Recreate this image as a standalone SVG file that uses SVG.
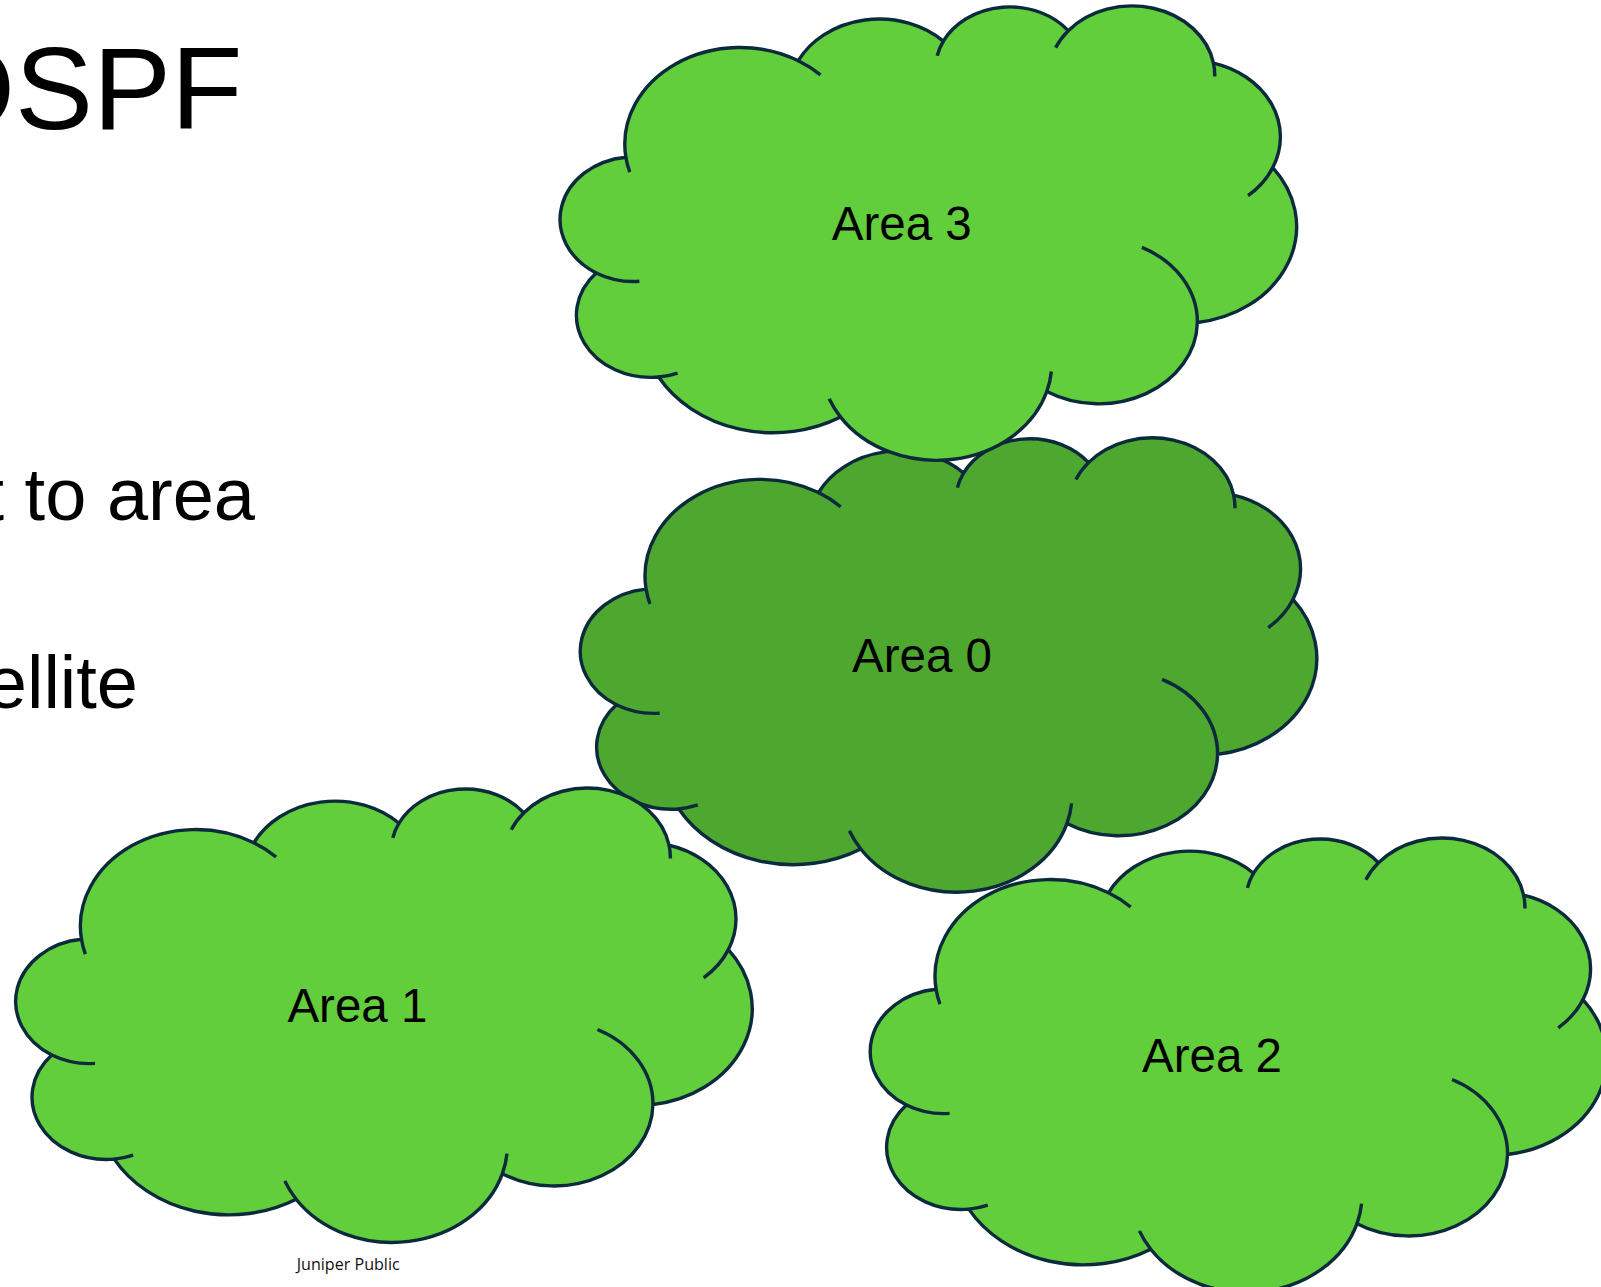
<svg xmlns="http://www.w3.org/2000/svg" xmlns:xlink="http://www.w3.org/1999/xlink" width="1601" height="1287" viewBox="0 0 1601 1287">
<style>
.body { stroke:#0B2A3C; stroke-width:3.4; stroke-linejoin:round; }
.light { fill:#62CE3B; }
.dark { fill:#4EA72E; }
.tick { fill:none; stroke:#0B2A3C; stroke-width:3.4; }
.label { font-family:"Liberation Sans", Arial, sans-serif; font-size:47.5px; fill:#000; text-anchor:middle; }
.slide { font-family:"Liberation Sans", Arial, sans-serif; fill:#000; }
.footer { font-family:"Open Sans", "Noto Sans", sans-serif; font-size:16px; fill:#111; }
</style>
<defs>
<path id="cloudBody" d="M66.57,151.09 A115.27,96.62 0 0 1 238.97,54.59 A91.03,76.40 0 0 1 384.07,35.00 A74.51,62.50 0 0 1 509.00,24.61 A82.91,69.34 0 0 1 654.17,57.05 A91.03,76.47 0 0 1 713.47,161.43 A115.65,96.94 0 0 1 638.06,316.36 A98.75,82.71 0 0 1 487.51,385.44 A115.25,96.89 0 0 1 281.27,410.99 A131.78,110.85 0 0 1 99.33,370.94 A74.42,62.22 0 0 1 36.88,266.84 A74.17,62.50 0 0 1 66.57,151.09 Z"/>
<path id="cloudTicks" d="M80.11,275.22 A74.17,62.50 0 0 1 36.88,266.84 M118.26,366.92 A74.42,62.22 0 0 1 99.33,370.94 M281.27,410.99 A115.25,96.89 0 0 1 269.87,392.69 M492.06,365.37 A115.25,96.89 0 0 1 487.51,385.44 M582.56,241.34 A98.75,82.71 0 0 1 638.06,316.36 M713.47,161.43 A91.03,76.47 0 0 1 688.75,189.56 M654.17,57.05 A82.91,69.34 0 0 1 655.47,70.33 M496.34,41.55 A82.91,69.34 0 0 1 509.00,24.61 M377.93,49.63 A74.51,62.50 0 0 1 384.07,35.00 M238.97,54.59 A115.27,96.62 0 0 1 261.16,68.76 M70.45,166.00 A115.27,96.62 0 0 1 66.57,151.09"/>
</defs>

<g id="slide-text">
<text class="slide" x="-76" y="128.5" font-size="117">OSPF</text>
<text class="slide" x="-16.5" y="520" font-size="74">t to area</text>
<text class="slide" x="-14.2" y="708.3" font-size="74">ellite</text>
<text class="footer" x="296.7" y="1270" textLength="103" lengthAdjust="spacingAndGlyphs">Juniper Public</text>
</g>

<g id="connectors"></g>

<g id="area0" transform="translate(579.5,438)">
<use xlink:href="#cloudBody" href="#cloudBody" class="body dark"/>
<use xlink:href="#cloudTicks" href="#cloudTicks" class="tick"/>
<text class="label" x="342.5" y="234.3">Area 0</text>
</g>

<g id="area3" transform="translate(559.3,6.1)">
<use xlink:href="#cloudBody" href="#cloudBody" class="body light"/>
<use xlink:href="#cloudTicks" href="#cloudTicks" class="tick"/>
<text class="label" x="342.5" y="234.3">Area 3</text>
</g>

<g id="area1" transform="translate(14.9,788.2)">
<use xlink:href="#cloudBody" href="#cloudBody" class="body light"/>
<use xlink:href="#cloudTicks" href="#cloudTicks" class="tick"/>
<text class="label" x="342.5" y="234.3">Area 1</text>
</g>

<g id="area2" transform="translate(869.5,838.2)">
<use xlink:href="#cloudBody" href="#cloudBody" class="body light"/>
<use xlink:href="#cloudTicks" href="#cloudTicks" class="tick"/>
<text class="label" x="342.5" y="234.3">Area 2</text>
</g>
</svg>
